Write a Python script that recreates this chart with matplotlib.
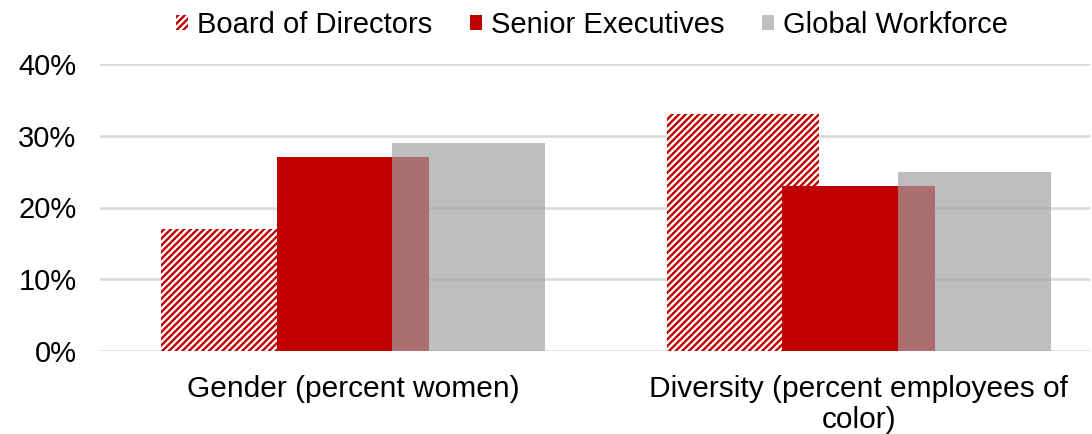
import numpy as np
import matplotlib
matplotlib.use("Agg")
import matplotlib.pyplot as plt
from matplotlib.patches import Patch

categories = ["Gender (percent women)", "Diversity (percent employees of\ncolor)"]
series_names = ["Board of Directors", "Senior Executives", "Global Workforce"]
board = [17, 33]
senior = [27, 23]
workforce = [29, 25]
yticks = [0, 10, 20, 30, 40]

plt.rcParams['font.family'] = ['Liberation Sans', 'DejaVu Sans']
plt.rcParams['hatch.linewidth'] = 1.7

red = '#c00000'
grey = (0.635, 0.635, 0.635, 0.69)

fig = plt.figure(figsize=(10.92, 4.34), dpi=100)
ax = fig.add_axes([100 / 1092, 83 / 434, 990 / 1092, 287 / 434])

x = np.arange(len(categories))
w = 0.302
off = 0.229

# grid behind the bars
for t in yticks:
    ax.axhline(t, color='#d9d9d9', lw=1.8, zorder=0)

ax.bar(x - off, board, w, facecolor='white', edgecolor=red, hatch='/////', lw=0, zorder=2)
ax.bar(x, senior, w, color=red, lw=0, zorder=3)
ax.bar(x + off, workforce, w, color=grey, lw=0, zorder=4)

ax.set_xlim(-0.5, 1.457)
ax.set_ylim(0, 40)
ax.set_yticks(yticks)
ax.set_yticklabels([f"{t}%" for t in yticks])
ax.set_xticks(x)
ax.set_xticklabels(categories, linespacing=1.15)
ax.tick_params(length=0, labelsize=21.5)
ax.tick_params(axis='x', pad=17)
ax.tick_params(axis='y', pad=17, labelsize=21)
for s in ax.spines.values():
    s.set_visible(False)

handles = [
    Patch(facecolor='white', edgecolor=red, hatch='/////', lw=0),
    Patch(facecolor=red, lw=0),
    Patch(facecolor='#bfbfbf', lw=0),
]
fig.legend(handles, series_names, loc='upper center', bbox_to_anchor=(0.542, 1.035),
           ncol=3, frameon=False, fontsize=21, handlelength=0.42, handleheight=0.42,
           handletextpad=0.3, columnspacing=1.3)

fig.savefig("out.png", dpi=100)
